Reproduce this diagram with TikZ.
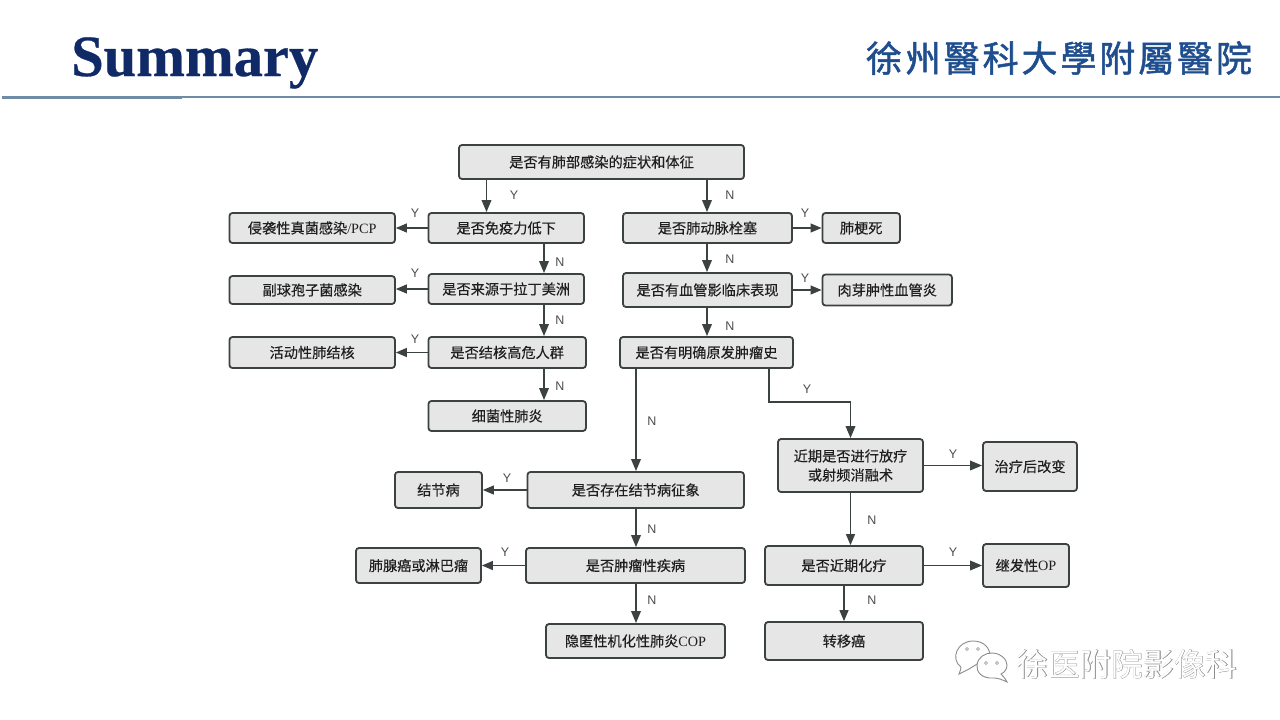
\documentclass[tikz,border=0pt]{standalone}
\usepackage{fontspec}
\setmainfont{Liberation Serif}
\newfontfamily\cjk{Noto Sans CJK SC}
\newfontfamily\cjkb[FakeBold=0.25]{Noto Sans CJK SC}
\newfontfamily\cjkout[FakeBold=1.1]{Noto Sans CJK SC}
\newfontfamily\cjklogo[FakeBold=1.4,LetterSpace=8]{Noto Sans CJK TC}
\newfontfamily\latn{Liberation Serif}
\newfontfamily\titlef[BoldFeatures={FakeBold=0.5}]{Liberation Serif}
\newfontfamily\lab{Liberation Sans}
\newcommand{\lt}[1]{{\latn #1}}
\usetikzlibrary{arrows.meta}
\definecolor{ink}{HTML}{3C4142}
\definecolor{boxfill}{HTML}{E6E6E6}
\definecolor{navy}{HTML}{0F2A66}
\definecolor{rulec}{HTML}{6F8BA6}
\definecolor{logoblue}{HTML}{1F4E8F}
\tikzset{
  fbox/.style={draw=ink,fill=boxfill,line width=1.8pt,rounded corners=3pt,inner sep=0pt,
     align=center,text=black!88,font=\cjkb\fontsize{14.2}{19}\selectfont},
  conn/.style={draw=ink,line width=1.8pt,-{Triangle[length=12pt,width=9.5pt]}},
  thinconn/.style={draw=ink,line width=1.2pt,-{Triangle[length=11pt,width=9pt]}},
  yn/.style={inner sep=0pt,text=black!70,font=\lab\fontsize{12.5}{14}\selectfont},
  bubble/.style={draw=black!45,fill=white,line width=0.9pt},
  eye/.style={draw=black!45,fill=white,line width=0.6pt,circle,inner sep=0pt,minimum size=3pt}
}
\begin{document}
\begin{tikzpicture}[x=1pt,y=-1pt]
\useasboundingbox (0,0) rectangle (1280,720);
\fill[white] (0,0) rectangle (1280,720);
% header
\node (title) [inner sep=0pt,anchor=base west,text=navy,font=\titlef\bfseries\fontsize{58.5}{60}\selectfont] at (71,76) {Summary};
\node (logo) [inner sep=0pt,text=logoblue,anchor=center,font=\cjklogo\fontsize{36}{40}\selectfont] at (1059,58) {徐州醫科大學附屬醫院};
\fill[rulec] (2,96.2) rectangle (182,98.8);
\fill[rulec] (182,95.8) rectangle (1280,97.8);
% boxes
\node (top) [fbox,minimum width=285pt,minimum height=34pt] at (601.5,162) {是否有肺部感染的症状和体征};
\node (a1) [fbox,minimum width=155.5pt,minimum height=30pt] at (506.2,228) {是否免疫力低下};
\node (f1) [fbox,minimum width=165.5pt,minimum height=30pt] at (312.2,228) {侵袭性真菌感染\lt{/PCP}};
\node (a2) [fbox,minimum width=155.5pt,minimum height=30pt] at (506.2,289) {是否来源于拉丁美洲};
\node (f2) [fbox,minimum width=165.5pt,minimum height=28pt] at (312.2,290) {副球孢子菌感染};
\node (a3) [fbox,minimum width=157.5pt,minimum height=31pt] at (507.2,352.5) {是否结核高危人群};
\node (f3) [fbox,minimum width=165.5pt,minimum height=31pt] at (312.2,352.5) {活动性肺结核};
\node (a4) [fbox,minimum width=157.5pt,minimum height=30pt] at (507.2,416) {细菌性肺炎};
\node (b1) [fbox,minimum width=169pt,minimum height=30pt] at (707.5,228) {是否肺动脉栓塞};
\node (g1) [fbox,minimum width=77.5pt,minimum height=30pt] at (861.2,228) {肺梗死};
\node (b2) [fbox,minimum width=169pt,minimum height=34pt] at (707.5,290) {是否有血管影临床表现};
\node (g2) [fbox,minimum width=129.5pt,minimum height=31pt] at (887.2,290) {肉芽肿性血管炎};
\node (b3) [fbox,minimum width=173pt,minimum height=31pt] at (706.5,352.5) {是否有明确原发肿瘤史};
\node (c1) [fbox,minimum width=216.5pt,minimum height=36pt] at (635.7,490) {是否存在结节病征象};
\node (h1) [fbox,minimum width=87pt,minimum height=36pt] at (438.5,490) {结节病};
\node (c2) [fbox,minimum width=219pt,minimum height=35pt] at (635.5,565.5) {是否肿瘤性疾病};
\node (h2) [fbox,minimum width=125pt,minimum height=35pt] at (418.5,565.5) {肺腺癌或淋巴瘤};
\node (c3) [fbox,minimum width=179pt,minimum height=34pt] at (635.5,641) {隐匿性机化性肺炎\lt{COP}};
\node (d1) [fbox,minimum width=145pt,minimum height=53pt] at (850.5,465.5) {近期是否进行放疗\\或射频消融术};
\node (e1) [fbox,minimum width=94pt,minimum height=49pt] at (1030,466.5) {治疗后改变};
\node (d2) [fbox,minimum width=158pt,minimum height=39pt] at (844,565.5) {是否近期化疗};
\node (e2) [fbox,minimum width=86pt,minimum height=43pt] at (1026,565.5) {继发性\lt{OP}};
\node (d3) [fbox,minimum width=158pt,minimum height=38pt] at (844,641) {转移癌};
% column guides for off-centre connectors
\coordinate (colT) at (486.5,0);
\coordinate (colA) at (544,0);
\coordinate (colB) at (707,0);
\coordinate (colC) at (636,0);
\coordinate (colD) at (850.5,0);
\coordinate (colE) at (844,0);
\coordinate (colY) at (769,0);
\coordinate (bendY) at (769,402);
\coordinate (bendZ) at (850.5,402);
% connectors
\draw[conn] (top.south -| colT) -- (a1.north -| colT);
\draw[conn] (top.south -| colB) -- (b1.north -| colB);
\draw[thinconn] (a1.west) -- (f1.east);
\draw[thinconn] (a2.west) -- (f2.east |- a2.west);
\draw[thinconn] (a3.west) -- (f3.east);
\draw[conn] (a1.south -| colA) -- (a2.north -| colA);
\draw[conn] (a2.south -| colA) -- (a3.north -| colA);
\draw[conn] (a3.south -| colA) -- (a4.north -| colA);
\draw[thinconn] (b1.east) -- (g1.west);
\draw[thinconn] (b2.east) -- (g2.west);
\draw[conn] (b1.south -| colB) -- (b2.north -| colB);
\draw[conn] (b2.south -| colB) -- (b3.north -| colB);
\draw[conn] (b3.south -| colC) -- (c1.north -| colC);
\draw[conn,rounded corners=0pt] (b3.south -| colY) -- (bendY) -- (bendZ) -- (d1.north -| colD);
\draw[thinconn] (c1.west) -- (h1.east);
\draw[thinconn] (c2.west) -- (h2.east);
\draw[conn] (c1.south -| colC) -- (c2.north -| colC);
\draw[conn] (c2.south -| colC) -- (c3.north -| colC);
\draw[conn] (d1.east) -- (e1.west |- d1.east);
\draw[conn] (d2.east) -- (e2.west);
\draw[thinconn] (d1.south -| colD) -- (d2.north -| colD);
\draw[thinconn] (d2.south -| colE) -- (d3.north -| colE);
% labels
\node (l1) [yn] at (514,195) {Y};
\node (l2) [yn] at (730,195) {N};
\node (l3) [yn] at (415,213) {Y};
\node (l4) [yn] at (560,262) {N};
\node (l5) [yn] at (415,273) {Y};
\node (l6) [yn] at (560,320) {N};
\node (l7) [yn] at (415,339) {Y};
\node (l8) [yn] at (560,386) {N};
\node (l9) [yn] at (805,213) {Y};
\node (l10) [yn] at (730,259) {N};
\node (l11) [yn] at (805,278) {Y};
\node (l12) [yn] at (730,326) {N};
\node (l13) [yn] at (807,389) {Y};
\node (l14) [yn] at (652,421) {N};
\node (l15) [yn] at (507,478) {Y};
\node (l16) [yn] at (652,529) {N};
\node (l17) [yn] at (505,552) {Y};
\node (l18) [yn] at (652,600) {N};
\node (l19) [yn] at (953,454) {Y};
\node (l20) [yn] at (872,520) {N};
\node (l21) [yn] at (953,552) {Y};
\node (l22) [yn] at (872,600) {N};
% watermark
\draw[bubble] (969,669) .. controls (963,672) and (961,673) .. (959,674) .. controls (960,671) and (961,669) .. (961,667) .. controls (950,659) and (957,641) .. (973,641) .. controls (984,641) and (990,648) .. (990,656) -- cycle;
\draw[bubble] (1001,674) .. controls (1003,676) and (1005,678) .. (1007,682) .. controls (1003,680) and (998,678) .. (994,678) .. controls (982,679) and (976,672) .. (977,665) .. controls (978,657) and (985,653) .. (992,653) .. controls (1000,653) and (1007,659) .. (1007,665) .. controls (1007,669) and (1005,672) .. (1001,674) -- cycle;
\node (e11) [eye] at (967,649) {};
\node (e12) [eye] at (978,649) {};
\node (e21) [eye] at (986,663) {};
\node (e22) [eye] at (997,663) {};
\node (wmo) [inner sep=0pt,text=black!45,font=\cjkout\fontsize{31.5}{34}\selectfont] at (1127,664) {徐医附院影像科};
\node (wmi) [inner sep=0pt,text=white,font=\cjk\fontsize{31.5}{34}\selectfont] at (1127,664) {徐医附院影像科};
\end{tikzpicture}
\end{document}
